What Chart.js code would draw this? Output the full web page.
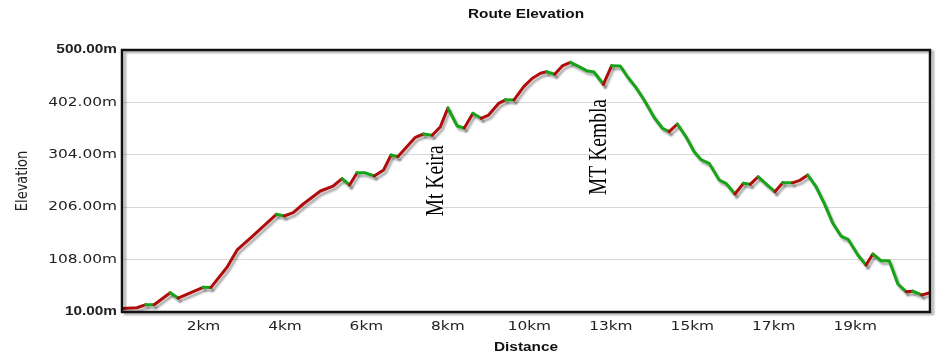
<!DOCTYPE html>
<html>
<head>
<meta charset="utf-8">
<script src="https://cdn.jsdelivr.net/npm/chart.js@4.4.1/dist/chart.umd.min.js"></script>
<style>
  html, body { margin: 0; padding: 0; background: #fff; }
  #wrap { width: 950px; height: 360px; }
</style>
</head>
<body>
<div id="wrap"><canvas id="c" width="950" height="360"></canvas></div>
<script>
// ---- data ----
const distanceKm = [0,0.40,0.64,0.86,1.29,1.50,2.17,2.38,2.81,3.08,3.48,4.13,4.34,4.58,4.85,5.31,5.65,5.89,6.09,6.29,6.51,6.75,7.00,7.20,7.38,7.85,8.07,8.30,8.52,8.72,8.97,9.16,9.39,9.61,9.81,10.08,10.26,10.49,10.75,10.98,11.20,11.36,11.58,11.78,12.00,12.23,12.43,12.63,12.88,13.10,13.33,13.53,13.75,13.97,14.24,14.46,14.64,14.86,15.09,15.31,15.49,15.71,15.98,16.16,16.40,16.63,16.81,17.02,17.27,17.47,17.68,17.94,18.12,18.35,18.57,18.79,19.02,19.24,19.43,19.69,19.91,20.09,20.31,20.53,20.76,20.98,21.16,21.40,21.62];
const elevationM = [16.5,18,23.7,23.5,46,36,56.2,56,93.6,126,150.8,192.7,189.5,195.7,212,236.3,245.6,259.3,247.5,270.5,270.3,264.3,275.6,303.6,300.4,336.7,342.9,340.5,356.6,391.5,357.9,354.1,381.6,372.3,378.4,400.3,406.8,406.6,431.4,447.1,456.4,459.4,454.6,470.1,477,468.8,461.3,458.9,435.9,470.4,470.2,449.5,430.2,406.5,373.8,353.6,347.2,361.6,337.8,309.8,295.2,288.1,256.9,250.7,230.7,250.7,248.8,263,247.5,235,251.8,251.6,255.6,266.2,244.3,213.3,175.9,152.1,146,116.6,97.9,118.5,105.9,105.7,62.4,48,49,41.8,46.1];
const totalKm = 21.62;
const xTickValues = [2.18,4.36,6.54,8.72,10.9,13.08,15.26,17.44,19.62];
const xTickLabels = ['2km','4km','6km','8km','10km','13km','15km','17km','19km'];
const yTickValues = [10,108,206,304,402,500];
const markerLabels = ['Mt Keira','MT Kembla'];
const markerKm = [8.60,12.94];
const markerElev = [189,229];

// ---- styles ----
const UP = '#b00c0c';
const DOWN = '#17a317';
const SANS = "'DejaVu Sans'";
const BOLD = "'Liberation Sans'";
const TEXT_STRETCH = 1.28; // the original image is stretched horizontally

const canvas = document.getElementById('c');
const ctx = canvas.getContext('2d');
// draw every text stretched horizontally (screen x) about its anchor point
const origFill = ctx.fillText;
ctx.fillText = function(t, x, y, mw) {
  const m = this.getTransform();
  const p = m.transformPoint(new DOMPoint(x, y));
  const s = new DOMMatrix().translate(p.x, 0).scale(TEXT_STRETCH, 1).translate(-p.x, 0);
  this.setTransform(s.multiply(m));
  const r = origFill.apply(this, arguments);
  this.setTransform(m);
  return r;
};

const shadowPlugin = {
  id: 'lineShadow',
  beforeDatasetDraw(chart) {
    const c = chart.ctx;
    c.save();
    c.shadowColor = 'rgba(0,0,0,0.32)';
    c.shadowOffsetX = 2;
    c.shadowOffsetY = 3;
    c.shadowBlur = 2;
  },
  afterDatasetDraw(chart) { chart.ctx.restore(); }
};

const framePlugin = {
  id: 'frame',
  afterDatasetsDraw(chart) {
    const c = chart.ctx, a = chart.chartArea;
    c.save();
    c.shadowColor = 'rgba(0,0,0,0.3)';
    c.shadowOffsetX = 3;
    c.shadowOffsetY = 2;
    c.shadowBlur = 2;
    c.strokeStyle = '#111';
    c.lineWidth = 2.5;
    c.strokeRect(a.left, a.top, a.right - a.left, a.bottom - a.top);
    c.restore();
    // markers
    const xs = chart.scales.x, ys = chart.scales.y;
    c.save();
    c.fillStyle = '#000';
    c.font = "19.5px 'Liberation Serif'";
    c.textAlign = 'left';
    c.textBaseline = 'alphabetic';
    markerLabels.forEach((lab, i) => {
      const px = xs.getPixelForValue(markerKm[i]);
      const py = ys.getPixelForValue(markerElev[i]);
      c.save();
      c.translate(px, py);
      c.rotate(-Math.PI / 2);
      c.fillText(lab, 0, 0);
      c.restore();
    });
    c.restore();
  }
};

new Chart(ctx, {
  type: 'line',
  data: {
    datasets: [{
      data: distanceKm.map((d, i) => ({ x: d, y: elevationM[i] })),
      borderWidth: 3,
      borderColor: UP,
      borderJoinStyle: 'round',
      borderCapStyle: 'round',
      pointRadius: 0,
      tension: 0,
      fill: false,
      segment: {
        borderColor: s => (s.p1.parsed.y > s.p0.parsed.y ? UP : DOWN)
      }
    }]
  },
  options: {
    responsive: false,
    animation: false,
    devicePixelRatio: 1,
    layout: { padding: { left: 0, right: 20, top: 0, bottom: 0 } },
    plugins: {
      legend: { display: false },
      tooltip: { enabled: false },
      title: {
        display: true,
        text: 'Route Elevation',
        fullSize: false,
        color: '#111',
        font: { family: BOLD, size: 12, weight: 'bold' },
        padding: { top: 7, bottom: 28.6 }
      }
    },
    scales: {
      x: {
        type: 'linear',
        min: 0,
        max: totalKm,
        afterBuildTicks: s => { s.ticks = xTickValues.map(v => ({ value: v })); },
        afterFit: s => { s.height = 48; },
        grid: { display: false, drawTicks: false },
        border: { display: false },
        ticks: {
          autoSkip: false,
          maxRotation: 0,
          padding: 8,
          color: '#222',
          font: { family: SANS, size: 12 },
          callback: (v, i) => xTickLabels[i]
        },
        title: {
          display: true,
          text: 'Distance',
          color: '#111',
          font: { family: BOLD, size: 12, weight: 'bold' },
          padding: { top: 0, bottom: 5.5 }
        }
      },
      y: {
        type: 'linear',
        min: 10,
        max: 500,
        afterBuildTicks: s => { s.ticks = yTickValues.map(v => ({ value: v })); },
        afterFit: s => { s.width = 122; },
        grid: { color: '#d9d9d9', lineWidth: 1, drawTicks: false },
        border: { display: false },
        ticks: {
          padding: 5,
          color: '#222',
          font: c => {
            const edge = (c.index === 0 || c.index === yTickValues.length - 1);
            return edge ? { family: BOLD, size: 12, weight: 'bold' } : { family: SANS, size: 12, weight: 'normal' };
          },
          callback: v => Number(v).toFixed(2) + 'm'
        },
        title: {
          display: true,
          text: 'Elevation',
          color: '#222',
          font: { family: SANS, size: 13 },
          padding: { top: 14.7, bottom: 0 }
        }
      }
    }
  },
  plugins: [shadowPlugin, framePlugin]
});
</script>
</body>
</html>
